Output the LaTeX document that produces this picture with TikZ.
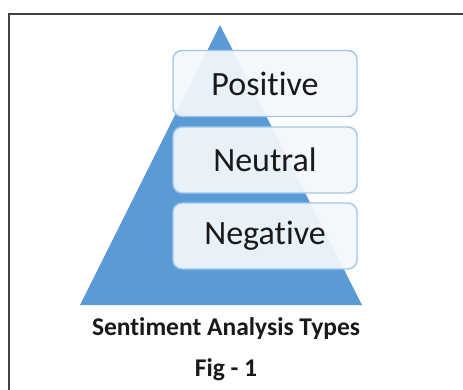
\documentclass[tikz,border=0pt]{standalone}
\usepackage{fontspec}
\setmainfont{Carlito}[Ligatures=NoCommon]
\usetikzlibrary{calc}
\definecolor{pyramide}{RGB}{91,155,213}
\definecolor{bordure}{RGB}{160,198,234}
\definecolor{fond}{RGB}{244,248,252}

\begin{document}
\begin{tikzpicture}[x=1pt,y=-1pt,
    niveau/.style={draw=bordure, line width=1.4pt, fill=fond, fill opacity=0.92,
        text opacity=1, rounded corners=9pt, minimum width=184pt, minimum height=66pt,
        font=\fontsize{34}{38}\selectfont, text=black!90},
    legende/.style={font=\bfseries\fontsize{25.5}{29}\selectfont, text=black!90}]
    \useasboundingbox (0,0) rectangle (463,390);
    \fill[white] (0,0) rectangle (463,390);
    % cadre
    \draw[line width=1.8pt, black!75] (9,400) -- (9,14) -- (470,14);
    % pyramide
    \coordinate (S) at (220,25);
    \coordinate (G) at (80,305);
    \coordinate (D) at (362,305);
    \fill[pyramide] (S) -- (G) -- (D) -- cycle;
    % les trois niveaux
    \foreach \n/\t/\y in {pos/Positive/83.5, neu/Neutral/160, neg/Negative/236} {
        \node[niveau] (\n) at (265,\y) {\t};
    }
    \node[legende] (titre) at (226,329) {Sentiment Analysis Types};
    \node[legende] (fig) at (226,370) {Fig - 1};
\end{tikzpicture}
\end{document}
